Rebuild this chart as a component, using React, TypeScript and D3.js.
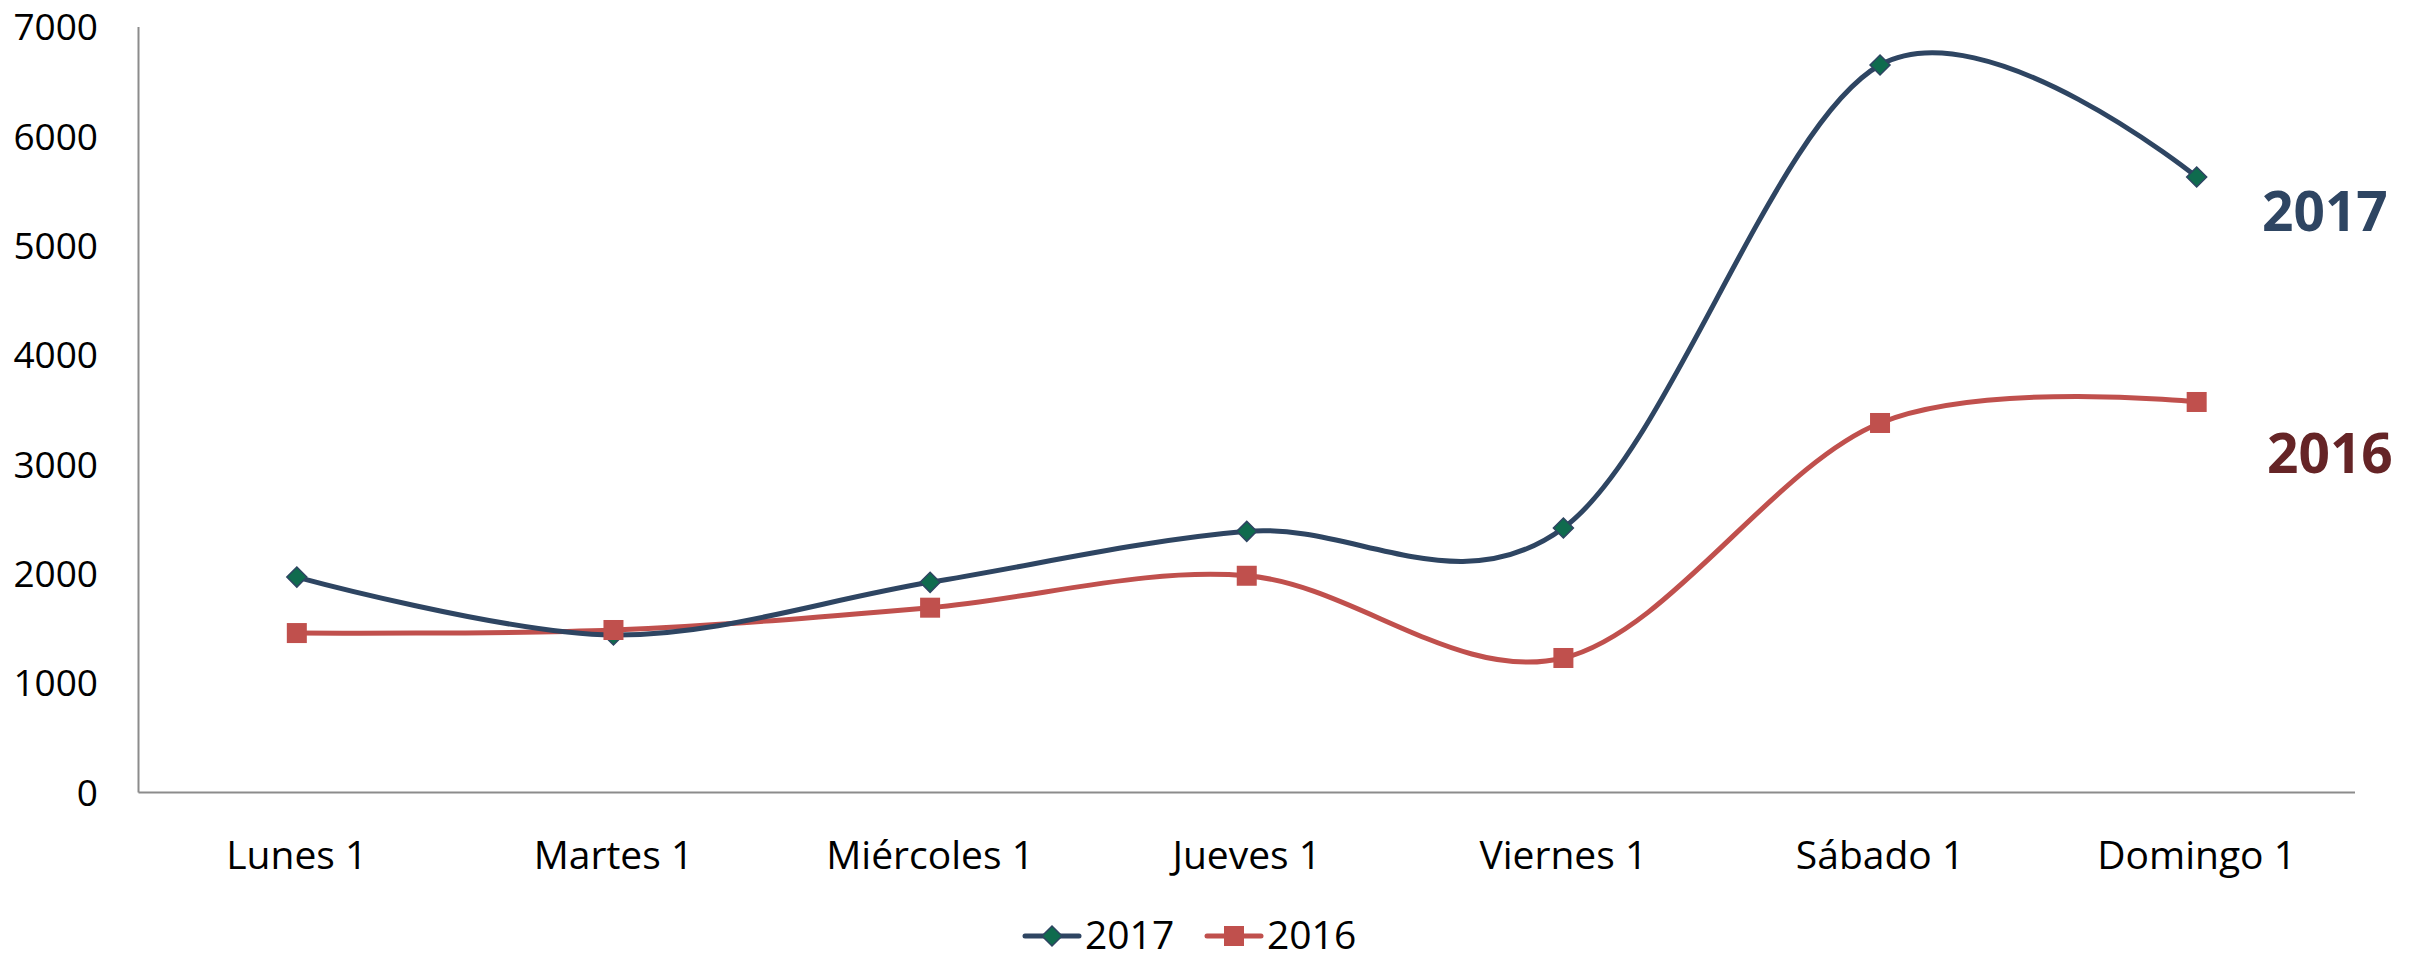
import React, { useEffect, useRef } from 'react';
import * as d3 from 'd3';

const dias = ['Lunes 1', 'Martes 1', 'Miércoles 1', 'Jueves 1', 'Viernes 1', 'Sábado 1', 'Domingo 1'];
const ventas2017 = [1970, 1440, 1922, 2388, 2419, 6652, 5628];
const ventas2016 = [1458, 1486, 1690, 1982, 1230, 3379, 3571];
const yTicks = [0, 1000, 2000, 3000, 4000, 5000, 6000, 7000];

const WIDTH = 2430;
const HEIGHT = 962;

const C_2017 = '#2e4562';
const C_2017_MARK = '#0f6b4e';
const C_2016 = '#c0504d';
const C_2016_LABEL = '#652426';
const FONT = "'Open Sans', 'Noto Sans', sans-serif";

const LineChart: React.FC = () => {
  const svgRef = useRef<SVGSVGElement>(null);

  useEffect(() => {
    if (!svgRef.current) return;
    const svg = d3.select(svgRef.current);
    svg.selectAll('*').remove();

    const left = 138.5;
    const right = 2355;
    const top = 27;
    const bottom = 792.5;

    const x = d3.scaleBand<string>().domain(dias).range([left, right]);
    const y = d3.scaleLinear().domain([0, 7000]).range([bottom, top]);
    const cx = (d: string) => (x(d) ?? 0) + x.bandwidth() / 2;

    // ejes (sin marcas)
    svg.append('line')
      .attr('x1', left).attr('x2', left).attr('y1', top).attr('y2', bottom)
      .style('stroke', '#8c8c8c').style('stroke-width', 2);
    svg.append('line')
      .attr('x1', left).attr('x2', right).attr('y1', bottom).attr('y2', bottom)
      .style('stroke', '#8c8c8c').style('stroke-width', 2);

    svg.append('g')
      .selectAll('text')
      .data(yTicks)
      .enter()
      .append('text')
      .attr('x', 98)
      .attr('y', (d) => y(d))
      .attr('dy', '0.36em')
      .attr('text-anchor', 'end')
      .style('font-family', FONT)
      .style('font-size', '37px')
      .style('fill', '#000')
      .text((d) => String(d));

    svg.append('g')
      .selectAll('text')
      .data(dias)
      .enter()
      .append('text')
      .attr('x', (d) => cx(d))
      .attr('y', 869)
      .attr('text-anchor', 'middle')
      .style('font-family', FONT)
      .style('font-size', '39px')
      .style('fill', '#000')
      .text((d) => d);

    // líneas suavizadas
    const line = d3.line<number>()
      .x((_, i) => cx(dias[i]))
      .y((d) => y(d))
      .curve(d3.curveCatmullRom.alpha(0));

    svg.append('path')
      .datum(ventas2016)
      .attr('d', line)
      .style('fill', 'none')
      .style('stroke', C_2016)
      .style('stroke-width', 5)
      .style('stroke-linejoin', 'round');

    svg.append('path')
      .datum(ventas2017)
      .attr('d', line)
      .style('fill', 'none')
      .style('stroke', C_2017)
      .style('stroke-width', 5)
      .style('stroke-linejoin', 'round');

    const diamond = (g: d3.Selection<any, any, any, any>) =>
      g.append('path')
        .attr('d', 'M0,-10L10,0L0,10L-10,0Z')
        .style('fill', C_2017_MARK)
        .style('stroke', C_2017)
        .style('stroke-width', 1.5);

    const square = (g: d3.Selection<any, any, any, any>) =>
      g.append('rect')
        .attr('x', -10).attr('y', -10).attr('width', 20).attr('height', 20)
        .style('fill', C_2016);

    // marcadores 2017 primero, 2016 encima (como en el original)
    svg.append('g')
      .selectAll('g')
      .data(ventas2017)
      .enter()
      .append('g')
      .attr('transform', (d, i) => `translate(${cx(dias[i])},${y(d)})`)
      .call(diamond);

    svg.append('g')
      .selectAll('g')
      .data(ventas2016)
      .enter()
      .append('g')
      .attr('transform', (d, i) => `translate(${cx(dias[i])},${y(d)})`)
      .call(square);

    // etiquetas al final de las series
    svg.append('text')
      .attr('x', 2262).attr('y', 231)
      .style('font-family', FONT)
      .style('font-weight', '700')
      .style('font-size', '55px')
      .style('fill', C_2017)
      .text('2017');

    svg.append('text')
      .attr('x', 2267).attr('y', 473)
      .style('font-family', FONT)
      .style('font-weight', '700')
      .style('font-size', '55px')
      .style('fill', C_2016_LABEL)
      .text('2016');

    // leyenda
    const legend = svg.append('g');
    const items = [
      { name: '2017', x0: 1025, color: C_2017, mark: diamond },
      { name: '2016', x0: 1207, color: C_2016, mark: square },
    ];
    items.forEach((it) => {
      legend.append('line')
        .attr('x1', it.x0).attr('x2', it.x0 + 54).attr('y1', 936).attr('y2', 936)
        .style('stroke', it.color).style('stroke-width', 5).style('stroke-linecap', 'round');
      const m = legend.append('g').attr('transform', `translate(${it.x0 + 27},936)`);
      it.mark(m);
      legend.append('text')
        .attr('x', it.x0 + 60).attr('y', 949)
        .style('font-family', FONT)
        .style('font-size', '39px')
        .style('fill', '#000')
        .text(it.name);
    });
  }, []);

  return (
    <svg
      ref={svgRef}
      width={WIDTH}
      height={HEIGHT}
      style={{ position: 'absolute', left: 0, top: 0, background: '#fff' }}
    />
  );
};

export default function App() {
  return <LineChart />;
}
